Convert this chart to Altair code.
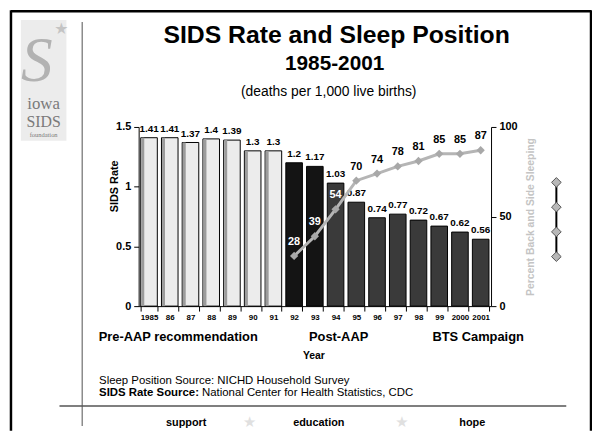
import altair as alt
import pandas as pd

# ---------------- data ----------------
years = ["1985", "86", "87", "88", "89", "90", "91", "92", "93", "94",
         "95", "96", "97", "98", "99", "2000", "2001"]
sids_rate = [1.41, 1.41, 1.37, 1.4, 1.39, 1.3, 1.3, 1.2, 1.17, 1.03,
             0.87, 0.74, 0.77, 0.72, 0.67, 0.62, 0.56]
back_side_pct = [None, None, None, None, None, None, None, 28, 39, 54,
                 70, 74, 78, 81, 85, 85, 87]
period = ["Pre-AAP"] * 7 + ["Post-AAP"] * 2 + ["BTS"] * 8
period_names = ["Pre-AAP", "Post-AAP", "BTS"]
period_colors = ["#ececec", "#141414", "#3a3a3a"]
rate_ticks = [0, 0.5, 1, 1.5]
pct_ticks = [0, 50, 100]

df = pd.DataFrame({
    "year": years,
    "rate": sids_rate,
    "rate_label": [f"{v:g}" for v in sids_rate],
    "pct": back_side_pct,
    "period": period,
})
dummy = pd.DataFrame({"a": [0]})

# plot area origin in page coordinates
OX, OY = 140, 126
W, H = 356, 181

NARROW = "Liberation Sans Narrow, Arial Narrow, Liberation Sans"
SANS = "Liberation Sans, Arial, Helvetica"
SERIF = "Liberation Serif, Times New Roman, serif"


def txt(s, x, y, size, weight="normal", color="black", align="center",
        angle=0, font=SANS, baseline="alphabetic", style="normal"):
    return alt.Chart(dummy).mark_text(
        text=s, fontSize=size, fontWeight=weight, color=color, align=align,
        angle=angle, font=font, baseline=baseline, fontStyle=style
    ).encode(x=alt.value(x - OX), y=alt.value(y - OY))


def rule(x1, y1, x2, y2, color="black", width=1.0):
    return alt.Chart(dummy).mark_rule(color=color, strokeWidth=width).encode(
        x=alt.value(x1 - OX), x2=alt.value(x2 - OX),
        y=alt.value(y1 - OY), y2=alt.value(y2 - OY))


def rect(x1, y1, x2, y2, color):
    return alt.Chart(dummy).mark_rect(color=color).encode(
        x=alt.value(x1 - OX), x2=alt.value(x2 - OX),
        y=alt.value(y1 - OY), y2=alt.value(y2 - OY))


def diamond(x, y):
    return alt.Chart(dummy).mark_point(
        shape="diamond", filled=True, size=95, color="#b8b8b8",
        stroke="#555555", strokeWidth=1, opacity=1
    ).encode(x=alt.value(x - OX), y=alt.value(y - OY))


# ---------------- chart ----------------
xenc = alt.X("year:N", sort=years,
             scale=alt.Scale(paddingInner=0.2, paddingOuter=0.1),
             axis=alt.Axis(title=None, labelAngle=0, tickBand="extent",
                           tickSize=5, labelPadding=3, labelFont=NARROW,
                           labelFontSize=8, labelFontWeight="bold",
                           labelColor="black", domainColor="black",
                           tickColor="black"))

rate_scale = alt.Scale(domain=[0, 1.5])
pct_scale = alt.Scale(domain=[0, 100])

bars = alt.Chart(df).mark_bar(stroke="black", strokeWidth=1).encode(
    x=xenc,
    y=alt.Y("rate:Q", scale=rate_scale,
            axis=alt.Axis(orient="left", values=rate_ticks, title=None,
                          format="~g", grid=False, tickSize=5,
                          labelPadding=3, labelFont=SANS, labelFontSize=11,
                          labelFontWeight="bold", labelColor="black",
                          domainColor="black", tickColor="black")),
    color=alt.Color("period:N",
                    scale=alt.Scale(domain=period_names, range=period_colors),
                    legend=None),
)

# grey shading on the left edge of the light bars
bar_shade = alt.Chart(df).transform_filter(
    alt.datum.period == "Pre-AAP"
).mark_bar(width=3, xOffset=-6.3, color="#9c9c9c").encode(
    x=alt.X("year:N", sort=years),
    y=alt.Y("rate:Q", scale=rate_scale, axis=None),
)

bar_text = alt.Chart(df).mark_text(
    dy=-6, baseline="alphabetic", font=NARROW, fontSize=10,
    fontWeight="bold", color="black"
).encode(x=alt.X("year:N", sort=years),
         y=alt.Y("rate:Q", scale=rate_scale, axis=None),
         text="rate_label:N")

line_base = alt.Chart(df).transform_filter("isValid(datum.pct)")

line = line_base.mark_line(color="#b5b5b5", strokeWidth=3).encode(
    x=alt.X("year:N", sort=years),
    y=alt.Y("pct:Q", scale=pct_scale,
            axis=alt.Axis(orient="right", values=pct_ticks, title=None,
                          grid=False, tickSize=5, labelPadding=3,
                          labelFont=SANS, labelFontSize=11,
                          labelFontWeight="bold", labelColor="black",
                          domainColor="black", tickColor="black")),
)
points = line_base.mark_point(shape="diamond", filled=True, size=70,
                              color="#a8a8a8", opacity=1).encode(
    x=alt.X("year:N", sort=years),
    y=alt.Y("pct:Q", scale=pct_scale, axis=None),
)
line_text = line_base.mark_text(
    dy=-14, font=NARROW, fontSize=11, fontWeight="bold"
).encode(
    x=alt.X("year:N", sort=years),
    y=alt.Y("pct:Q", scale=pct_scale, axis=None),
    text=alt.Text("pct:Q", format="d"),
    color=alt.condition("datum.pct * 0.015 + 0.14 < datum.rate",
                        alt.value("white"), alt.value("black")),
)

deco = [
    # frame
    rule(11, 9, 597, 9, "black", 2.5),
    rule(11, 8, 11, 433, "black", 2.5),
    rule(597, 8, 597, 433, "black", 2.5),
    # separators
    rule(83, 20, 83, 428, "#8a8a8a", 1.5),
    rule(60, 408, 572, 408, "#555555", 1.5),
    # logo
    rect(21, 18, 67, 140, "#ececec"),
    txt("S", 37, 80, 64, "normal", "#b2b2b2", font=SERIF, style="italic"),
    txt("\u2605", 62, 32, 16, "normal", "#c4c4c4", font="DejaVu Sans"),
    txt("iowa", 44, 108, 17, "normal", "#7a7a7a", font=SERIF),
    txt("SIDS", 44, 126, 16, "normal", "#7a7a7a", font=SERIF),
    txt("foundation", 44, 136, 6.5, "normal", "#7a7a7a", font=SERIF),
    # titles
    txt("SIDS Rate and Sleep Position", 340, 41, 25, "bold"),
    txt("1985-2001", 338, 68, 21, "bold"),
    txt("(deaths per 1,000 live births)", 332, 95, 14),
    # axis titles
    txt("SIDS Rate", 119, 186, 11, "bold", angle=270),
    txt("Percent Back and Side Sleeping", 539, 217, 10.5, "bold",
        "#c4c4c4", angle=270),
    # period labels
    txt("Pre-AAP recommendation", 180, 342, 13, "bold"),
    txt("Post-AAP", 342, 342, 13, "bold"),
    txt("BTS Campaign", 483, 342, 13, "bold"),
    txt("Year", 317, 360, 10.5, "bold", font=NARROW),
    # sources
    txt("Sleep Position Source:  NICHD Household Survey", 100, 386, 11.5,
        align="left"),
    txt("SIDS Rate Source:", 100, 398, 11.5, "bold", align="left"),
    txt("National Center for Health Statistics, CDC", 204, 398, 11.5,
        align="left"),
    # footer
    txt("support", 188, 428, 11, "bold"),
    txt("\u2605", 252, 429, 15, "normal", "#e0e0e0", font="DejaVu Sans"),
    txt("education", 322, 428, 11, "bold"),
    txt("\u2605", 406, 429, 15, "normal", "#e0e0e0", font="DejaVu Sans"),
    txt("hope", 477, 428, 11, "bold"),
    # right-side diamond ornament
    rule(562, 182, 562, 257, "black", 2),
    diamond(562, 182), diamond(562, 207), diamond(562, 232), diamond(562, 257),
]

chart = alt.layer(
    bars, bar_shade, bar_text, line, points, line_text, *deco
).resolve_scale(y="independent").properties(
    width=W, height=H,
    autosize=alt.AutoSizeParams(type="none"),
    padding={"left": OX - 8, "top": OY - 8, "right": 590 - (OX - 8) - W,
             "bottom": 425 - (OY - 8) - H},
    background="white",
).configure_view(stroke=None)

chart.save("out.html", embed_options={"renderer": "svg", "actions": False})
